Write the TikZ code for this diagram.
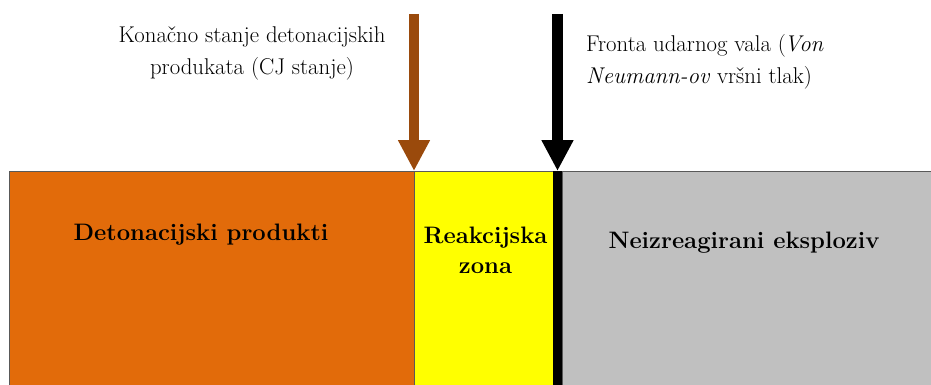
\documentclass[tikz,border=0pt]{standalone}
\usepackage{fontspec}
\usetikzlibrary{arrows.meta}
\definecolor{prodorange}{HTML}{E26B0A}
\definecolor{cjbrown}{HTML}{9A4A0C}
\definecolor{zoneyellow}{HTML}{FFFF00}
\definecolor{unreacted}{HTML}{C0C0C0}
\tikzset{
  zone/.style={draw=black!65, line width=0.8pt, inner sep=0pt, outer sep=0pt},
  bigarrow/.style={line width=10.5pt, -{Triangle[width=30pt,length=31pt]}},
  toplabel/.style={font=\rmfamily\fontsize{22.8}{32}\selectfont, inner sep=0pt, align=center},
  zonelabel/.style={font=\rmfamily\fontsize{23.8}{30}\selectfont\bfseries, inner sep=0pt, align=center}
}
\begin{document}
\begin{tikzpicture}[x=1pt,y=-1pt]
\useasboundingbox (0,0) rectangle (931,385);
\clip (0,0) rectangle (931,385);
% zones
\path[zone, fill=prodorange] (9,171) rectangle (414,395);
\path[zone, fill=zoneyellow] (414,171) rectangle (553,395);
\path[zone, fill=unreacted] (562,171) rectangle (935,395);
\path[fill=black] (553,171) rectangle (562,395);
\coordinate (cjfoot) at (414,171);
\coordinate (frontfoot) at (557.5,171);
\coordinate (cjtop) at (414,14);
\coordinate (fronttop) at (557.5,14);
% arrows
\draw[bigarrow, cjbrown] (cjtop) -- (cjfoot);
\draw[bigarrow, black] (fronttop) -- (frontfoot);
% labels
\node[toplabel] (cjlabel) at (252,53) {Konačno stanje detonacijskih\\produkata (CJ stanje)};
\node[toplabel, anchor=west, align=left] (frontlabel) at (586,62) {Fronta udarnog vala (\kern-1.5pt\textit{Von}\\\textit{Neumann-ov} vršni tlak)};
\node[zonelabel] (prodlabel) at (201,235) {Detonacijski produkti};
\node[zonelabel] (reaclabel) at (485.5,250) {Reakcijska\\zona};
\node[zonelabel] (explabel) at (744,243) {Neizreagirani eksploziv};
\end{tikzpicture}
\end{document}
